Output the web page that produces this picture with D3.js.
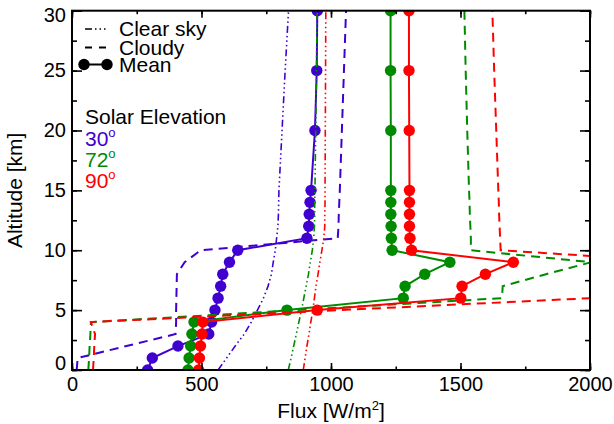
<!DOCTYPE html>
<html><head><meta charset="utf-8">
<script src="https://cdn.jsdelivr.net/npm/d3@7"></script>
<style>body{margin:0;background:#fff}</style>
</head><body><svg id="c" width="614" height="424"></svg>
<script>
const altitudes = [0,1,2,3,4,5,6,7,8,9,10,11,12,13,14,15,20,25,30];
const elevations = ["30","72","90"];
const colors = ["#4000d0","#008a00","#ff0000"];
// Clear sky fluxes per elevation
const clear30 = [564,597,630,665,692,716,739,757,770,777,785,790,795,797,798,799,811,823,836];
const clear72 = [835,846,856,866,876,886,895,904,913,920,928,933,936,937,937,938,941,944,946];
const clear90 = [893,900,907,915,922,930,936,942,950,957,965,972,976,976,977,977,978,979,980];
// Cloudy fluxes
const cloudy30 = [18,22,210,400,402,402,403,404,405,435,497,1026,1029,1030,1032,1034,1042,1050,1058];
const cloudy72 = [63,66,68,71,73,866,1660,1663,1830,2005,1540,1540,1538,1536,1535,1533,1526,1520,1515];
const cloudy90 = [81,84,86,89,73,1033,2005,2120,2250,2380,1655,1653,1651,1649,1648,1646,1638,1630,1623];
// Mean fluxes
const mean30 = [292,310,409,528,539,552,564,574,582,608,640,907,914,916,919,923,938,945,947];
const mean72 = [448,452,458,463,471,830,1279,1286,1362,1459,1236,1233,1232,1231,1231,1231,1231,1230,1230];
const mean90 = [489,492,496,502,505,947,1501,1506,1596,1704,1311,1305,1303,1303,1303,1303,1302,1301,1301];
const xTicks = [0,500,1000,1500,2000];
const yTicks = [0,5,10,15,20,25,30];

const clearS = [clear30, clear72, clear90];
const cloudyS = [cloudy30, cloudy72, cloudy90];
const meanS = [mean30, mean72, mean90];

const svg = d3.select("#c");
const FONT = "'Liberation Sans', Arial, Helvetica, sans-serif";
const TICKFS = 20, TXTFS = 21;
const L = 72, R = 590, T = 10.7, B = 370;
const x = d3.scaleLinear().domain([0,2000]).range([L,R]);
const y = d3.scaleLinear().domain([0,30]).range([B,T]);

svg.append("defs").append("clipPath").attr("id","clip")
  .append("rect").attr("x",L).attr("y",T).attr("width",R-L).attr("height",B-T);

const plot = svg.append("g").attr("clip-path","url(#clip)");
const line = d3.line().x(d=>x(d[0])).y(d=>y(d[1]));
const DOTDASH = "7,3,1.5,3,1.5,3,1.5,3";
const DASH = "9,6";

for (let i=0;i<3;i++){
  const c = colors[i];
  const pts = a => a.map((v,k)=>[v,altitudes[k]]);
  plot.append("path").attr("d",line(pts(clearS[i]))).attr("fill","none")
    .attr("stroke",c).attr("stroke-width",1.6).attr("stroke-dasharray",DOTDASH);
  plot.append("path").attr("d",line(pts(cloudyS[i]))).attr("fill","none")
    .attr("stroke",c).attr("stroke-width",2).attr("stroke-dasharray",DASH);
  plot.append("path").attr("d",line(pts(meanS[i]))).attr("fill","none")
    .attr("stroke",c).attr("stroke-width",2);
  plot.selectAll(null).data(pts(meanS[i])).enter().append("circle")
    .attr("cx",d=>x(d[0])).attr("cy",d=>y(d[1])).attr("r",5.7).attr("fill",c);
}

// Axes
function styleAxis(g){
  g.select(".domain").remove();
  g.selectAll("line").attr("stroke","#000").attr("stroke-width",1.6);
  g.selectAll("text").attr("font-family",FONT).attr("font-size",TICKFS).attr("fill","#000");
}
const minorX = d3.range(0,2001,250), minorY = d3.range(0,30.1,2.5);
svg.append("g").attr("transform",`translate(0,${B})`)
  .call(d3.axisBottom(x).tickValues(minorX).tickSize(-3.5).tickFormat("")).call(styleAxis);
svg.append("g").attr("transform",`translate(0,${B})`)
  .call(d3.axisBottom(x).tickValues(xTicks).tickSize(-7).tickPadding(7).tickFormat(d3.format("d"))).call(styleAxis);
svg.append("g").attr("transform",`translate(0,${T})`)
  .call(d3.axisTop(x).tickValues(minorX).tickSize(-3.5).tickFormat("")).call(styleAxis);
svg.append("g").attr("transform",`translate(0,${T})`)
  .call(d3.axisTop(x).tickValues(xTicks).tickSize(-7).tickFormat("")).call(styleAxis);
svg.append("g").attr("transform",`translate(${L},0)`)
  .call(d3.axisLeft(y).tickValues(minorY).tickSize(-5).tickFormat("")).call(styleAxis);
const yl = svg.append("g").attr("transform",`translate(${L},0)`)
  .call(d3.axisLeft(y).tickValues(yTicks).tickSize(-10).tickPadding(6).tickFormat(d3.format("d"))).call(styleAxis);
yl.selectAll("text").filter(d=>d===0).attr("dy","-0.05em");
yl.selectAll("text").filter(d=>d===30).attr("dy","0.55em");
svg.append("g").attr("transform",`translate(${R},0)`)
  .call(d3.axisRight(y).tickValues(minorY).tickSize(-5).tickFormat("")).call(styleAxis);
svg.append("g").attr("transform",`translate(${R},0)`)
  .call(d3.axisRight(y).tickValues(yTicks).tickSize(-10).tickFormat("")).call(styleAxis);

svg.append("rect").attr("x",L).attr("y",T).attr("width",R-L).attr("height",B-T)
  .attr("fill","none").attr("stroke","#000").attr("stroke-width",2);

// Axis titles
const xt = svg.append("text").attr("x",(L+R)/2).attr("y",418).attr("text-anchor","middle")
  .attr("font-family",FONT).attr("font-size",TXTFS);
xt.append("tspan").text("Flux [W/m");
xt.append("tspan").text("2").attr("font-size",13).attr("dy",-8);
xt.append("tspan").text("]").attr("dy",8);
svg.append("text").attr("transform",`translate(22,${(T+B)/2}) rotate(-90)`)
  .attr("text-anchor","middle").attr("font-family",FONT).attr("font-size",TXTFS).text("Altitude [km]");

// Legend
const lg = svg.append("g");
const legendItems = [
  {label:"Clear sky", dash:DOTDASH, w:1.6, y:29},
  {label:"Cloudy", dash:DASH, w:2, y:47.5},
  {label:"Mean", dash:null, w:2, y:64.5}
];
legendItems.forEach((it,k)=>{
  lg.append("line").attr("x1",85).attr("x2",107).attr("y1",it.y).attr("y2",it.y)
    .attr("stroke","#000").attr("stroke-width",it.w)
    .attr("stroke-dasharray",it.dash ? (k===1?"7,7":"7,3,1.5,3,1.5,3,1.5,3") : null);
  if (!it.dash){
    lg.append("circle").attr("cx",84).attr("cy",it.y).attr("r",5.7);
    lg.append("circle").attr("cx",107).attr("cy",it.y).attr("r",5.7);
  }
  lg.append("text").attr("x",119).attr("y",it.y+7).attr("font-family",FONT).attr("font-size",TXTFS).text(it.label);
});
lg.append("text").attr("x",85).attr("y",123.5).attr("font-family",FONT).attr("font-size",TXTFS).text("Solar Elevation");
elevations.forEach((e,k)=>{
  const t = lg.append("text").attr("x",85).attr("y",145.5+k*21.3).attr("font-family",FONT)
    .attr("font-size",TXTFS).attr("fill",colors[k]);
  t.append("tspan").text(e);
  t.append("tspan").text("o").attr("font-size",13).attr("dy",-9);
});
</script></body></html>
